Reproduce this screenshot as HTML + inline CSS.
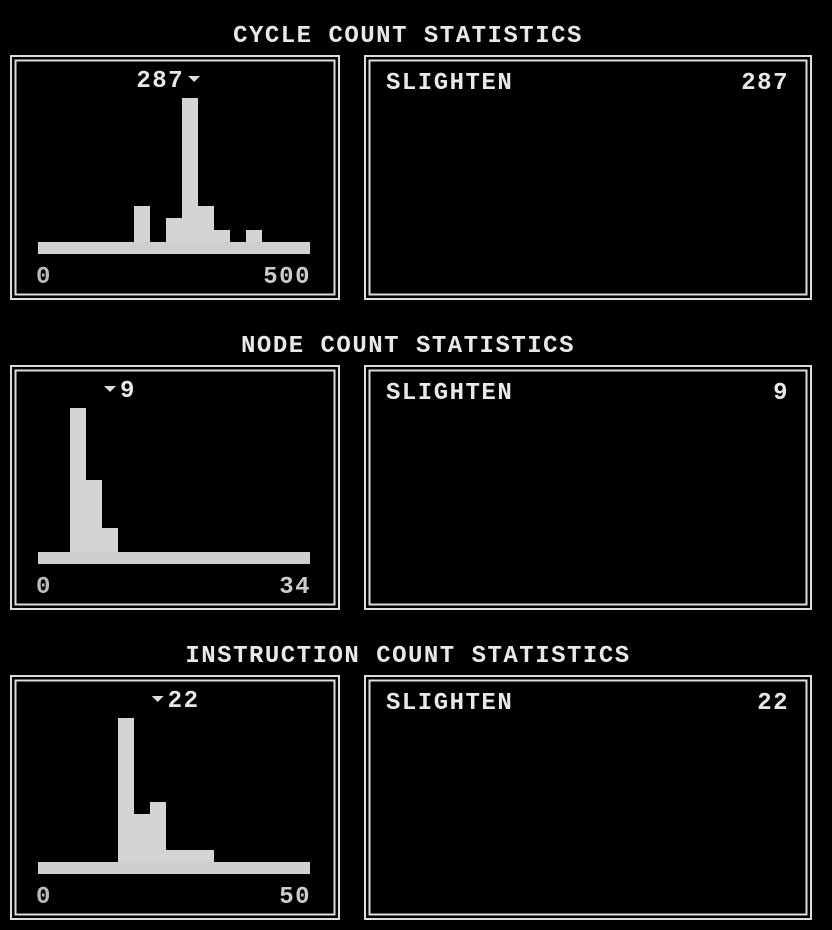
<!DOCTYPE html>
<html><head><meta charset="utf-8"><style>
html,body{margin:0;padding:0;background:#000;width:832px;height:930px;overflow:hidden}
svg{display:block}
text{font-family:"Liberation Mono",monospace;font-weight:bold;fill:#e8e8e8;font-size:24px;letter-spacing:1.5px}
</style></head><body>
<svg id="chart" width="832" height="930"></svg>
<script>
const sectionTitles = ["CYCLE COUNT STATISTICS","NODE COUNT STATISTICS","INSTRUCTION COUNT STATISTICS"];
const maxValues = [500, 34, 50];
const playerValues = [287, 9, 22];
const playerNames = ["SLIGHTEN","SLIGHTEN","SLIGHTEN"];
const cycleBins = [0,0,0,0,0,0,3,0,2,12,3,1,0,1,0,0,0];
const nodeBins = [0,0,12,6,2,0,0,0,0,0,0,0,0,0,0,0,0];
const instrBins = [0,0,0,0,0,12,4,5,1,1,1,0,0,0,0,0,0];
const allBins = [cycleBins, nodeBins, instrBins];

const svg = document.getElementById('chart');
const NS = 'http://www.w3.org/2000/svg';
function mk(tag, attrs, parent){
  const e = document.createElementNS(NS, tag);
  for (const k in attrs) e.setAttribute(k, attrs[k]);
  (parent||svg).appendChild(e);
  return e;
}
const X0 = 38, X1 = 310, unitH = 12, barH = 12;
function xScale(v, max){ return X0 + v / max * (X1 - X0); }
function frame(g, x, y, w, h){
  mk('rect',{x:x+1,y:y+1,width:w-2,height:h-2,fill:'none',stroke:'#ddd','stroke-width':2},g);
  mk('rect',{x:x+5.5,y:y+5.5,width:w-11,height:h-11,fill:'none',stroke:'#ddd','stroke-width':2},g);
}
for (let s = 0; s < 3; s++) {
  const oy = s * 310;
  const g = mk('g', {});
  
  
  const t = mk('text', {x:408, y:oy+42, 'text-anchor':'middle'}, g);
  t.textContent = sectionTitles[s];
  
  

  const hg = mk('g', {}, g);
  
  
  frame(hg, 10, oy+55, 330, 245);
  const baseY = oy + 242;
  const bins = allBins[s];
  const bw = (X1 - X0) / bins.length;
  const base = mk('rect', {x:X0, y:baseY, width:X1-X0, height:barH, fill:'#cfcfcf'}, hg);
  
  
  bins.forEach((v, i) => {
    if (!v) return;
    const r = mk('rect', {x:X0 + i*bw, y:baseY - v*unitH, width:bw, height:v*unitH, fill:'#d4d4d4'}, hg);
    
    
  });
  const mx = xScale(playerValues[s], maxValues[s]);
  const my = oy + 76;
  const tri = mk('polygon', {points:`${mx-6},${my} ${mx+6},${my} ${mx},${my+6}`, fill:'#ddd'}, hg);
  
  
  const right = mx > (X0+X1)/2;
  const ml = mk('text', {x: right ? mx-10 : mx+10, y: oy+87, 'text-anchor': right ? 'end' : 'start'}, hg);
  ml.textContent = playerValues[s];
  
  
  const l0 = mk('text', {x:X0-2, y:oy+283, fill:'#bbb', style:'fill:#bbb'}, hg);
  l0.textContent = '0';
  
  
  const l1 = mk('text', {x:X1+1, y:oy+283, 'text-anchor':'end', style:'fill:#ccc'}, hg);
  l1.textContent = maxValues[s];
  
  

  const rg = mk('g', {}, g);
  
  
  frame(rg, 364, oy+55, 448, 245);
  const nm = mk('text', {x:386, y:oy+89}, rg);
  nm.textContent = playerNames[s];
  
  
  const sc = mk('text', {x:789, y:oy+89, 'text-anchor':'end'}, rg);
  sc.textContent = playerValues[s];
  
  
}
</script>
</body></html>
